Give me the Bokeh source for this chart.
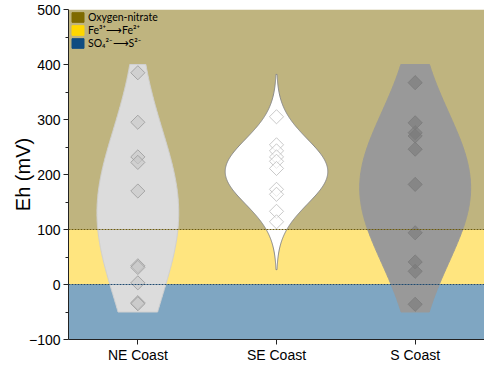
import numpy as np
from bokeh.plotting import figure
from bokeh.models import (BoxAnnotation, Span, FixedTicker, Legend, LegendItem,
                          Range1d, ColumnDataSource)
from bokeh.embed import file_html
from bokeh.resources import INLINE

# ---------------- data ----------------
categories = ["NE Coast", "SE Coast", "S Coast"]
ne_eh = [385, 295, 232, 222, 170, 34, 31, 3, -33, -35]
se_eh = [305, 254, 243, 232, 224, 211, 173, 164, 133, 114]
s_eh = [367, 294, 276, 270, 246, 182, 94, 41, 24, -36]
groups = [ne_eh, se_eh, s_eh]
violin_lo = [-50, 27, -50]
violin_hi = [400, 382, 400]
violin_halfwidth = [0.295, 0.37, 0.40]

zone_names = ["Oxygen-nitrate", "Fe\u00b3\u207a\u27f6Fe\u00b2\u207a", "SO\u2084\u00b2\u207b\u27f6S\u00b2\u207b"]
zone_bottom = [100, 0, -100]
zone_top = [500, 100, 0]
zone_colors = ["#7F6A00", "#FFCC00", "#004D86"]
swatch_colors = ["#7F6A00", "#FFD700", "#0F4C81"]

violin_fill = ["#DCDCDC", "#FFFFFF", "#999999"]
violin_line = ["#D0D0D0", "#8A8A8A", "#999999"]
marker_fill = ["#C8C8C8", "#FFFFFF", "#7A7A7A"]
marker_line = ["#9A9A9A", "#BBBBBB", "#7A7A7A"]

# ---------------- figure ----------------
p = figure(width=484, height=365, output_backend="svg", toolbar_location=None,
           x_range=Range1d(0.5, 3.5), y_range=Range1d(-100, 500),
           min_border_left=68, min_border_right=0, min_border_top=9, min_border_bottom=0)
p.outline_line_color = None
p.grid.visible = False
p.background_fill_color = "white"

# zone bands
for b, t, c in zip(zone_bottom, zone_top, zone_colors):
    p.add_layout(BoxAnnotation(bottom=b, top=t, fill_color=c, fill_alpha=0.5,
                               line_color=None, level="underlay"))
for yv, c in zip([100, 0], ["#6B5A10", "#1F4A70"]):
    p.add_layout(Span(location=yv, dimension="width", line_color=c,
                      line_dash="2 1", line_width=1, line_alpha=1.0))

# violins (normal density fitted to each group's values)
for i, vals in enumerate(groups):
    v = np.array(vals, dtype=float)
    mu, sd = v.mean(), v.std(ddof=1)
    yy = np.linspace(violin_lo[i], violin_hi[i], 200)
    dens = np.exp(-0.5 * ((yy - mu) / sd) ** 2)
    w = dens / dens.max() * violin_halfwidth[i]
    cx = i + 1
    xs = np.concatenate([cx + w, (cx - w)[::-1]])
    ys = np.concatenate([yy, yy[::-1]])
    p.patch(xs, ys, fill_color=violin_fill[i], line_color=violin_line[i], line_width=1)

# points
for i, vals in enumerate(groups):
    src = ColumnDataSource(dict(x=[i + 1] * len(vals), y=vals))
    p.scatter("x", "y", source=src, marker="square", angle=np.pi / 4, size=10,
              fill_color=marker_fill[i], fill_alpha=0.6,
              line_color=marker_line[i], line_alpha=0.8, line_width=1)

# legend (swatch renderers placed outside the visible range)
items = []
for name, c in zip(zone_names, swatch_colors):
    r = p.quad(left=[0], right=[0.1], top=[-2000], bottom=[-2001],
               fill_color=c, line_color=c)
    items.append(LegendItem(label=name, renderers=[r]))
leg = Legend(items=items, location="top_left", margin=1, padding=1, spacing=1,
             glyph_width=15, glyph_height=12, label_standoff=3,
             label_text_font="Lato", label_text_font_size="10.5px",
             label_text_color="black",
             label_height=12, label_text_line_height=1.0,
             background_fill_alpha=0, border_line_alpha=0)
p.add_layout(leg)

# axes
p.xaxis.ticker = FixedTicker(ticks=[1, 2, 3])
p.xaxis.major_label_overrides = {i + 1: c for i, c in enumerate(categories)}
p.yaxis.ticker = FixedTicker(ticks=list(range(-100, 501, 100)),
                             minor_ticks=list(range(-50, 501, 100)))
p.yaxis.axis_label = "Eh (mV)"
for ax in (p.xaxis, p.yaxis):
    ax.major_label_text_font = "Liberation Sans"
    ax.major_label_text_font_size = "14px"
    ax.major_label_text_color = "black"
    ax.axis_line_color = "#222222"
    ax.major_tick_line_color = "#222222"
    ax.minor_tick_line_color = "#222222"
    ax.major_tick_in = 0
    ax.major_tick_out = 5
    ax.minor_tick_in = 0
    ax.minor_tick_out = 3
p.xaxis.minor_tick_line_color = None
p.yaxis.axis_label_text_font = "Liberation Sans"
p.yaxis.axis_label_text_font_size = "20px"
p.yaxis.axis_label_text_font_style = "normal"
p.yaxis.axis_label_text_color = "black"
p.yaxis.axis_label_standoff = -8
p.yaxis.major_label_standoff = 3
p.xaxis.major_label_standoff = 2

open("out.html", "w").write(file_html(p, INLINE))
